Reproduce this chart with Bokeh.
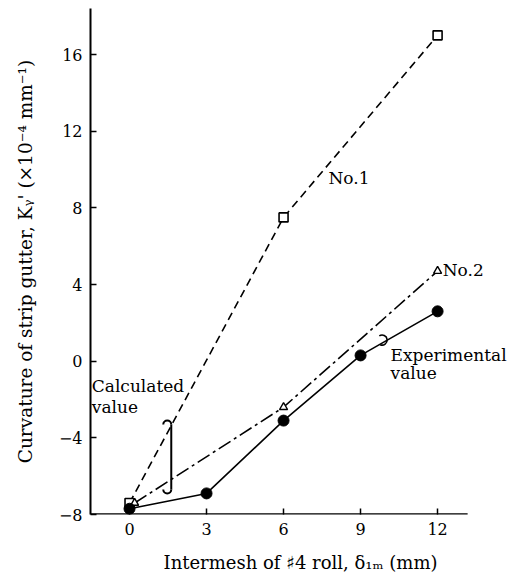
import numpy as np
from bokeh.plotting import figure
from bokeh.models import Label, Range1d, FixedTicker
from bokeh.embed import file_html
from bokeh.resources import INLINE

# ---- data ----
no1_x = [0, 6, 12]
no1_y = [-7.4, 7.5, 17.0]

no2_x = [0.2, 6, 12]
no2_y = [-7.4, -2.4, 4.7]

exp_x = [0, 3, 6, 9, 12]
exp_y = [-7.7, -6.9, -3.1, 0.3, 2.6]

x_ticks = [0, 3, 6, 9, 12]
y_ticks = [-8, -4, 0, 4, 8, 12, 16]
y_tick_labels = {-8: "\u22128", -4: "\u22124"}

X_START, X_AXIS_END, X_FRAME_END = -1.52, 13.17, 14.84
Y_START, Y_END = -8, 18.4

FONT = "DejaVu Serif"

p = figure(width=510, height=576, output_backend="svg", toolbar_location=None,
           x_range=Range1d(X_START, X_FRAME_END), y_range=Range1d(Y_START, Y_END),
           min_border_left=90, min_border_right=0, min_border_top=8, min_border_bottom=62)
p.outline_line_color = None
p.grid.visible = False
p.background_fill_color = "white"

for ax in (p.xaxis[0], p.yaxis[0]):
    ax.axis_line_width = 2
    ax.axis_line_color = "black"
    ax.major_tick_in = 6
    ax.major_tick_out = 0
    ax.major_tick_line_width = 1.5
    ax.major_tick_line_color = "black"
    ax.minor_tick_line_color = None
    ax.major_label_text_font = FONT
    ax.major_label_text_font_size = "16px"
    ax.major_label_text_color = "black"
    ax.axis_label_text_font = FONT
    ax.axis_label_text_font_style = "normal"
    ax.axis_label_text_color = "black"
    ax.axis_label_text_font_size = "18px"
p.yaxis.axis_label_text_font_size = "18.5px"

# x axis line is drawn only up to X_AXIS_END (frame extends for the labels)
p.xaxis.axis_line_color = None
p.segment(x0=[X_START], y0=[Y_START], x1=[X_AXIS_END], y1=[Y_START], line_color="black", line_width=2.5)

p.xaxis.ticker = FixedTicker(ticks=x_ticks)
p.yaxis.ticker = FixedTicker(ticks=y_ticks)
p.yaxis.major_label_overrides = y_tick_labels
p.xaxis.major_label_standoff = 8
p.yaxis.major_label_standoff = 8
p.xaxis.axis_label = "Intermesh of \u266f4 roll, \u03b4\u2081\u2098 (mm)"
p.yaxis.axis_label = "Curvature of strip gutter, K\u1d67' (\u00d710\u207b\u2074 mm\u207b\u00b9)"
p.xaxis.axis_label_standoff = 14
p.yaxis.axis_label_standoff = 20

# lines
p.line(no1_x, no1_y, line_color="black", line_width=1.6, line_dash="8 5")
p.line(no2_x, no2_y, line_color="black", line_width=1.6, line_dash="14 4 3 4")
p.line(exp_x, exp_y, line_color="black", line_width=1.6)

# markers
p.scatter(no1_x, no1_y, marker="square", size=9, fill_color="white", line_color="black", line_width=1.6)
p.scatter(no2_x, no2_y, marker="triangle", size=8, fill_color="white", line_color="black", line_width=1.4)
p.scatter(exp_x, exp_y, marker="circle", size=11, fill_color="black", line_color="black")

# bracket near "Calculated value"
bx = 1.47
p.arc(x=[bx, bx], y=[-3.3, -6.7], radius=4, radius_units="screen",
      start_angle=[0, np.pi], end_angle=[np.pi, 2 * np.pi], line_color="black", line_width=2)
p.segment(x0=[bx + 4 / 25.67], y0=[-3.3], x1=[bx + 4 / 25.67], y1=[-6.7], line_color="black", line_width=2)

# small loop near "Experimental value"
p.arc(x=[9.84], y=[1.1], radius=5, radius_units="screen",
      start_angle=[-np.pi / 2 - 0.4], end_angle=[np.pi / 2 + 0.6], line_color="black", line_width=1.6)

def lab(x, y, t):
    p.add_layout(Label(x=x, y=y, text=t, text_font=FONT, text_font_size="17px",
                       text_color="black", text_baseline="middle", text_align="left"))

lab(7.75, 9.55, "No.1")
lab(12.2, 4.75, "No.2")
lab(10.17, 0.3, "Experimental")
lab(10.17, -0.63, "value")
lab(-1.47, -1.3, "Calculated")
lab(-1.47, -2.4, "value")

open("out.html", "w").write(file_html(p, INLINE))
